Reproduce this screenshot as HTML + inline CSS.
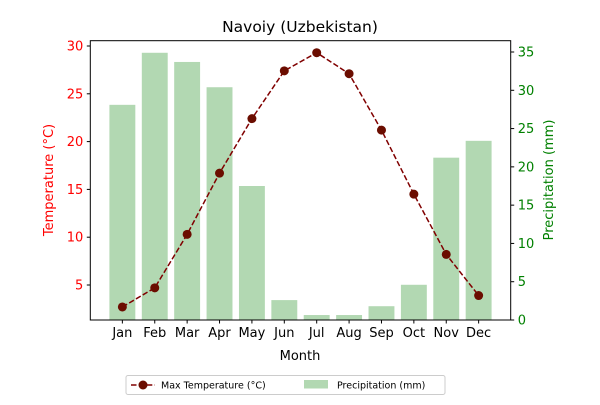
<!DOCTYPE html>
<html><head><meta charset="utf-8"><style>
body{margin:0;background:#fff;font-family:"Liberation Sans","DejaVu Sans",sans-serif}
</style></head><body>
<svg id="chart" width="600" height="400" xmlns="http://www.w3.org/2000/svg" font-family="DejaVu Sans, Liberation Sans, sans-serif"></svg>
<script>
const months=["Jan","Feb","Mar","Apr","May","Jun","Jul","Aug","Sep","Oct","Nov","Dec"];
const temps=[2.7,4.7,10.3,16.7,22.4,27.4,29.3,27.1,21.2,14.5,8.2,3.9];
const precip=[28.1,34.9,33.7,30.4,17.5,2.6,0.65,0.65,1.8,4.6,21.2,23.4];
const tempTicks=[5,10,15,20,25,30];
const precipTicks=[0,5,10,15,20,25,30,35];
const L=90.3,R=510.7,T=40.7,B=320;
const xMin=-0.99,xMax=11.99;
const x=i=>L+(i-xMin)/(xMax-xMin)*(R-L);
const yT=v=>285-(v-5)*9.56;
const yP=v=>320-v*7.657;
const svg=document.getElementById('chart');
const NS="http://www.w3.org/2000/svg";
function el(tag,attrs,text){const e=document.createElementNS(NS,tag);for(const k in attrs)e.setAttribute(k,attrs[k]);if(text!==undefined)e.textContent=text;svg.appendChild(e);return e;}
const bw=0.8*(R-L)/(xMax-xMin);
precip.forEach((p,i)=>{
 const r=el('rect',{x:x(i)-bw/2,y:yP(p),width:bw,height:B-yP(p),fill:'#b2d8b2'});
 
 
});
const line=el('polyline',{points:temps.map((t,i)=>x(i)+','+yT(t)).join(' '),fill:'none',stroke:'#800000','stroke-width':1.5,'stroke-dasharray':'5.5,2.4'});


temps.forEach((t,i)=>{
 const c=el('circle',{cx:x(i),cy:yT(t),r:4.5,fill:'#6b0d00'});
 
 
});
const frame=el('rect',{x:L,y:T,width:R-L,height:B-T,fill:'none',stroke:'#000','stroke-width':1});


months.forEach((m,i)=>{
 el('line',{x1:x(i),x2:x(i),y1:B,y2:B+3.5,stroke:'#000'});
 const t=el('text',{x:x(i),y:B+17,'text-anchor':'middle','font-size':13,fill:'#000'},m);
 
 
});
tempTicks.forEach(v=>{
 el('line',{x1:L-3.5,x2:L,y1:yT(v),y2:yT(v),stroke:'#000'});
 const t=el('text',{x:L-7,y:yT(v)+4.5,'text-anchor':'end','font-size':13,fill:'red'},v);
 
 
});
precipTicks.forEach(v=>{
 el('line',{x1:R,x2:R+3.5,y1:yP(v),y2:yP(v),stroke:'#000'});
 const t=el('text',{x:R+7,y:yP(v)+4.5,'text-anchor':'start','font-size':13,fill:'green'},v);
 
 
});
</script>
<svg style="position:absolute;left:0;top:0" width="600" height="400" xmlns="http://www.w3.org/2000/svg" font-family="DejaVu Sans, Liberation Sans, sans-serif">
<text x="300" y="32" text-anchor="middle" font-size="15.5">Navoiy (Uzbekistan)</text>
<text x="300" y="360" text-anchor="middle" font-size="13">Month</text>
<text transform="translate(53,180) rotate(-90)" text-anchor="middle" font-size="13" fill="red">Temperature (°C)</text>
<text transform="translate(553,180) rotate(-90)" text-anchor="middle" font-size="13" fill="green">Precipitation (mm)</text>
<g>
<rect x="126" y="375.5" width="319" height="19" fill="#fff" stroke="#ccc" rx="2"/>
<line x1="131" x2="155" y1="385" y2="385" stroke="#800000" stroke-width="1.5" stroke-dasharray="5.5,2.4"/>
<circle cx="143" cy="385" r="4.5" fill="#6b0d00"/>
<text x="161" y="388.5" font-size="9.5">Max Temperature (°C)</text>
<rect x="304" y="380" width="24" height="8.5" fill="#b2d8b2"/>
<text x="337" y="388.5" font-size="9.5">Precipitation (mm)</text>
</g>
</svg>
</body></html>
